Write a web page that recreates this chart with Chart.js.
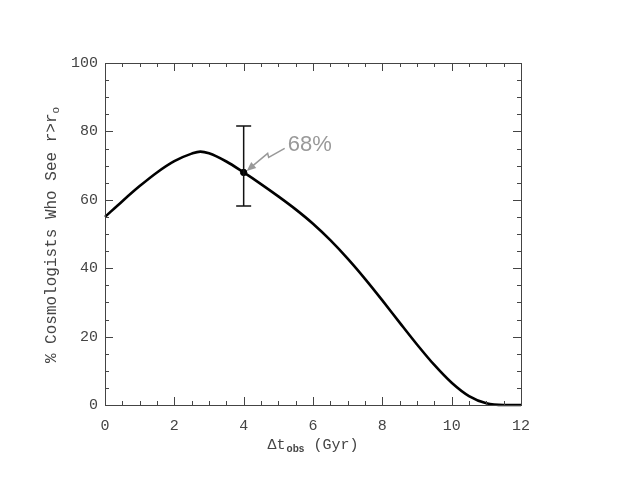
<!DOCTYPE html>
<html>
<head>
<meta charset="utf-8">
<script src="https://cdn.jsdelivr.net/npm/chart.js@4/dist/chart.umd.min.js"></script>
<style>
  html, body { margin: 0; padding: 0; background: #fff; }
  #wrap { width: 640px; height: 481px; }
</style>
</head>
<body>
<div id="wrap"><canvas id="chart" width="640" height="481"></canvas></div>
<script>
// curve
const dtObs = [0, 0.5, 1, 1.5, 2, 2.5, 2.75, 3, 3.5, 4, 4.5, 5, 5.5, 6, 6.5, 7, 7.5, 8, 8.5, 9, 9.5, 10, 10.5, 11, 11.5, 12];
const pctSee = [55.0, 59.6, 64.0, 68.0, 71.3, 73.5, 74.1, 73.6, 71.2, 68.0, 64.6, 61.0, 57.2, 53.0, 48.2, 42.8, 36.9, 30.6, 24.1, 17.7, 11.7, 6.5, 2.6, 0.5, 0, 0];

// the marked point and its error bar
const markX = [4];
const markY = [68];
const markLo = [58.2];
const markHi = [81.6];
const markLabel = '68%';

// tick values
const xMajor = [0, 2, 4, 6, 8, 10, 12];
const yMajor = [0, 20, 40, 60, 80, 100];
const xMinorStep = 0.5;
const yMinorStep = 5;

const monoFont = '"Liberation Mono", "DejaVu Sans Mono", monospace';
const axisColor = '#444';

// IDL style frame with inward ticks, titles, error bar and arrow
const idlAxes = {
    id: 'idlAxes',
    afterDatasetsDraw(chart) {
        const ctx = chart.ctx;
        const area = chart.chartArea;
        const xs = chart.scales.x;
        const ys = chart.scales.y;
        ctx.save();

        // frame
        ctx.strokeStyle = axisColor;
        ctx.lineWidth = 1;
        ctx.strokeRect(area.left + 0.5, area.top + 0.5, area.right - area.left, area.bottom - area.top);

        // ticks on all four sides
        ctx.beginPath();
        for (let v = xs.min; v <= xs.max + 1e-9; v += xMinorStep) {
            const len = xMajor.includes(Math.round(v * 100) / 100) ? 8 : 4;
            const px = Math.round(xs.getPixelForValue(v)) + 0.5;
            ctx.moveTo(px, area.bottom);
            ctx.lineTo(px, area.bottom - len);
            ctx.moveTo(px, area.top);
            ctx.lineTo(px, area.top + len);
        }
        for (let v = ys.min; v <= ys.max + 1e-9; v += yMinorStep) {
            const len = yMajor.includes(Math.round(v)) ? 8 : 4;
            const py = Math.round(ys.getPixelForValue(v)) + 0.5;
            ctx.moveTo(area.left, py);
            ctx.lineTo(area.left + len, py);
            ctx.moveTo(area.right, py);
            ctx.lineTo(area.right - len, py);
        }
        ctx.stroke();

        // error bar
        for (let i = 0; i < markX.length; i++) {
            const px = xs.getPixelForValue(markX[i]);
            const pLo = ys.getPixelForValue(markLo[i]);
            const pHi = ys.getPixelForValue(markHi[i]);
            ctx.strokeStyle = '#111';
            ctx.lineWidth = 1.5;
            ctx.beginPath();
            ctx.moveTo(px, pLo);
            ctx.lineTo(px, pHi);
            ctx.moveTo(px - 7.5, pLo);
            ctx.lineTo(px + 7.5, pLo);
            ctx.moveTo(px - 7.5, pHi);
            ctx.lineTo(px + 7.5, pHi);
            ctx.stroke();

            // zigzag arrow pointing at the mark, plus its label
            const py0 = ys.getPixelForValue(markY[i]);
            const pts = [[41, -24], [25, -15], [24, -19], [6, -4]];
            ctx.strokeStyle = '#999';
            ctx.fillStyle = '#999';
            ctx.beginPath();
            ctx.moveTo(px + pts[0][0], py0 + pts[0][1]);
            for (let k = 1; k < pts.length; k++) ctx.lineTo(px + pts[k][0], py0 + pts[k][1]);
            ctx.stroke();
            // arrow head
            const tx = px + 3, ty = py0 - 1.5;
            const ang = Math.atan2(pts[3][1] - pts[2][1], pts[3][0] - pts[2][0]);
            ctx.beginPath();
            ctx.moveTo(tx, ty);
            ctx.lineTo(tx - 10 * Math.cos(ang - 0.4), ty - 10 * Math.sin(ang - 0.4));
            ctx.lineTo(tx - 10 * Math.cos(ang + 0.4), ty - 10 * Math.sin(ang + 0.4));
            ctx.closePath();
            ctx.fill();
            ctx.font = '22px "Liberation Sans", Arial, sans-serif';
            ctx.textAlign = 'left';
            ctx.textBaseline = 'alphabetic';
            ctx.fillText(markLabel, px + 44, py0 - 21);
        }

        // x title: Δt_obs (Gyr)
        ctx.fillStyle = axisColor;
        ctx.textBaseline = 'alphabetic';
        const mainFont = '15px ' + monoFont;
        const subFont = 'bold 10px "Liberation Sans", Arial, sans-serif';
        ctx.font = mainFont;
        const a = 'Δt', c = ' (Gyr)';
        const wa = ctx.measureText(a).width, wc = ctx.measureText(c).width;
        ctx.font = subFont;
        const b = 'obs';
        const wb = ctx.measureText(b).width + 1;
        const cx = (area.left + area.right) / 2;
        const x0 = cx - (wa + wb + wc) / 2;
        const base = 449;
        ctx.font = mainFont;
        ctx.textAlign = 'left';
        ctx.fillText(a, x0, base);
        ctx.font = subFont;
        ctx.fillText(b, x0 + wa + 1, base + 3);
        ctx.font = mainFont;
        ctx.fillText(c, x0 + wa + wb, base);

        // y title: % Cosmologists Who See r>r_o
        ctx.save();
        ctx.translate(56, 235);
        ctx.rotate(-Math.PI / 2);
        ctx.font = '16px ' + monoFont;
        const t1 = '% Cosmologists Who See r>r';
        const w1 = ctx.measureText(t1).width;
        ctx.font = '11px ' + monoFont;
        const w2 = ctx.measureText('o').width;
        const sx = -(w1 + w2) / 2;
        ctx.font = '16px ' + monoFont;
        ctx.fillText(t1, sx, 0);
        ctx.font = '11px ' + monoFont;
        ctx.fillText('o', sx + w1, 3);
        ctx.restore();

        ctx.restore();
    }
};

new Chart(document.getElementById('chart'), {
    type: 'line',
    data: {
        datasets: [
            {
                data: dtObs.map((x, i) => ({ x: x, y: pctSee[i] })),
                borderColor: '#000',
                borderWidth: 2.6,
                pointRadius: 0,
                cubicInterpolationMode: 'monotone',
                clip: 6
            },
            {
                data: markX.map((x, i) => ({ x: x, y: markY[i] })),
                showLine: false,
                pointRadius: 3.2,
                pointBackgroundColor: '#000',
                pointBorderColor: '#000',
                clip: 6
            }
        ]
    },
    options: {
        responsive: false,
        animation: false,
        events: [],
        layout: { padding: { top: 63, right: 119, left: 0, bottom: 0 } },
        plugins: {
            legend: { display: false },
            tooltip: { enabled: false }
        },
        scales: {
            x: {
                type: 'linear',
                min: 0,
                max: 12,
                afterBuildTicks: (s) => { s.ticks = xMajor.map(v => ({ value: v })); },
                afterFit: (s) => { s.height = 76; },
                grid: { display: false, drawTicks: false },
                border: { display: false },
                ticks: {
                    padding: 12,
                    color: axisColor,
                    font: { family: monoFont, size: 15 }
                }
            },
            y: {
                min: 0,
                max: 100,
                afterBuildTicks: (s) => { s.ticks = yMajor.map(v => ({ value: v })); },
                afterFit: (s) => { s.width = 105; },
                grid: { display: false, drawTicks: false },
                border: { display: false },
                ticks: {
                    padding: 7,
                    color: axisColor,
                    font: { family: monoFont, size: 15 }
                }
            }
        }
    },
    plugins: [idlAxes]
});
</script>
</body>
</html>
